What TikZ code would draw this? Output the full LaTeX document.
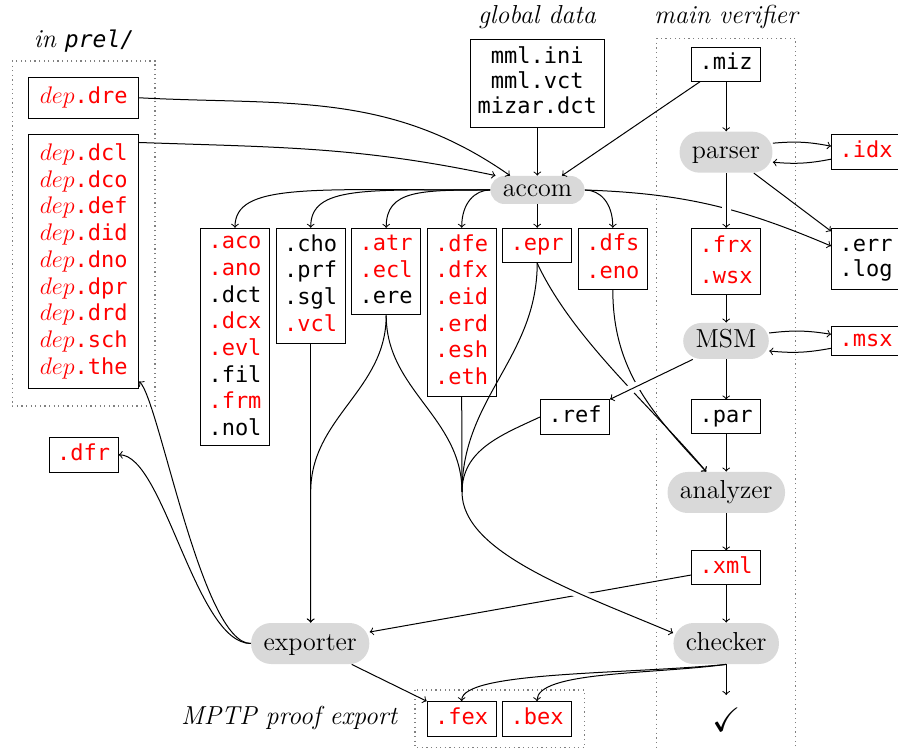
\documentclass[tikz,border=0pt]{standalone}
\usepackage{fontspec}
\usepackage{amssymb}
\newfontfamily\mymono{DejaVu Sans Mono}
\newcommand\msz[1]{\mymono\fontsize{11}{#1}\selectfont}
\newcommand\Lr[1]{\strut\textcolor{red}{#1}}
\newcommand\Lk[1]{\strut #1}
\newcommand\depi{{\fontsize{12.5}{13}\selectfont$dep$}}
\begin{document}
\begin{tikzpicture}[x=0.5pt,y=0.5pt,
  file/.style={draw, line width=0.5pt, font=\msz{13.35}, align=center, minimum width=34.5pt, inner sep=0pt},
  proc/.style={fill=gray!30, rounded corners=10pt, font=\fontsize{13}{15}\selectfont, minimum height=20.5pt, inner xsep=6.2pt, inner ysep=0pt, text height=8pt, text depth=1.5pt},
  conn/.style={->, line width=0.5pt},
  wire/.style={line width=0.5pt},
  halo/.style={preaction={draw=white, line width=4.5pt, -, shorten <=4pt, shorten >=4pt}},
  region/.style={draw=gray, line width=0.6pt, dash pattern=on 0.6pt off 1.7pt},
  lbl/.style={font=\fontsize{13}{15}\selectfont\itshape}]
\useasboundingbox (0,0) rectangle (898,749);
% regions
\draw[region] (12.3,688) rectangle (155,343);
\draw[region] (656.7,710.7) rectangle (795.7,-20);
\draw[region] (415,59) rectangle (584.3,1.3);
% labels
\node[lbl] (prellbl) at (84,708) {in {\mymono\fontsize{11.5}{13}\selectfont\itshape prel/}};
\node[lbl] (globallbl) at (537,732) {global data};
\node[lbl] (mvlbl) at (726,732) {main verifier};
\node[lbl, anchor=east] (mptplbl) at (404,31) {MPTP proof export};
% left files
\node[file, minimum width=55pt, minimum height=20.5pt] (dre) at (83.7,651.2) {\Lr{\depi.dre}};
\node[file, minimum width=55pt, minimum height=127pt] (dep) at (83.7,487) {\Lr{\depi.dcl}\\\Lr{\depi.dco}\\\Lr{\depi.def}\\\Lr{\depi.did}\\\Lr{\depi.dno}\\\Lr{\depi.dpr}\\\Lr{\depi.drd}\\\Lr{\depi.sch}\\\Lr{\depi.the}};
\node[file, minimum height=17.5pt] (dfr) at (83.7,294.2) {\Lr{.dfr}};
% global
\node[file, minimum width=66.7pt, minimum height=43.7pt, font=\msz{12.5}] (global) at (537.3,665.3) {\Lk{mml.ini}\\\Lk{mml.vct}\\\Lk{mizar.dct}};
% accom
\node[proc, minimum height=14pt, rounded corners=7pt] (accom) at (537.5,559) {accom};
% environment files
\node[file, minimum height=108.5pt] (aco) at (235,412.2) {\Lr{.aco}\\\Lr{.ano}\\\Lk{.dct}\\\Lr{.dcx}\\\Lr{.evl}\\\Lk{.fil}\\\Lr{.frm}\\\Lk{.nol}};
\node[file, minimum height=57.5pt] (cho) at (310.7,463.2) {\Lk{.cho}\\\Lk{.prf}\\\Lk{.sgl}\\\Lr{.vcl}};
\node[file, minimum height=43.3pt] (atr) at (386.2,477.3) {\Lr{.atr}\\\Lr{.ecl}\\\Lk{.ere}};
\node[file, minimum height=84.2pt] (dfe) at (461.7,436.5) {\Lr{.dfe}\\\Lr{.dfx}\\\Lr{.eid}\\\Lr{.erd}\\\Lr{.esh}\\\Lr{.eth}};
\node[file, minimum height=17.2pt] (epr) at (537.2,503.5) {\Lr{.epr}};
\node[file, minimum height=30.5pt, font=\msz{13.85}] (dfs) at (612.8,490.2) {\Lr{.dfs}\\\Lr{.eno}};
% main verifier
\node[file, minimum height=16.9pt] (miz) at (726.2,684.8) {\Lk{.miz}};
\node[proc] (parser) at (726,596.8) {parser};
\node[file, minimum height=17.2pt] (idx) at (866,596.8) {\Lr{.idx}};
\node[file, minimum height=33.3pt, font=\msz{15.65}] (frx) at (726.2,487.3) {\Lr{.frx}\\\Lr{.wsx}};
\node[file, minimum height=30.3pt, font=\msz{12.85}] (err) at (866,490) {\Lk{.err}\\\Lk{.log}};
\node[proc, minimum height=18pt, rounded corners=9pt] (msm) at (726,408) {MSM};
\node[file, minimum height=14.7pt] (msx) at (866,407.7) {\Lr{.msx}};
\node[file, minimum height=17.2pt] (ref) at (575,332) {\Lk{.ref}};
\node[file, minimum height=17pt] (par) at (726.2,332) {\Lk{.par}};
\node[proc] (analyzer) at (726.3,256.5) {analyzer};
\node[file, minimum height=17pt] (xml) at (726.2,181) {\Lr{.xml}};
\node[proc] (checker) at (726.2,105.5) {checker};
\node[proc] (exporter) at (310.2,105.5) {exporter};
\node[file, minimum height=17.5pt] (fex) at (461.7,29.8) {\Lr{.fex}};
\node[file, minimum height=17.5pt] (bex) at (537,29.8) {\Lr{.bex}};
\node (check) at (726.2,29.5) {\fontsize{17}{19}\selectfont\checkmark};
\coordinate (checkend) at (726.2,54);
\coordinate (hub) at (462,257);
% inputs of accom
\draw[conn] (dre.east) to[out=-3,in=145] ([xshift=-13.75pt]accom.north);
\draw[conn] ([yshift=-4pt]dep.north east) to[out=-2,in=168] ([xshift=-21pt]accom.north);
\draw[conn] (global.south) -- (global.south |- accom.north);
\draw[conn] ([xshift=4.5pt]miz.south west) -- ([xshift=12.25pt]accom.north);
% outputs of accom
\draw[conn] (accom.west) .. controls +(-180,0) and +(0,45) .. (aco.north);
\draw[conn] (accom.west) .. controls +(-125,0) and +(0,42) .. (cho.north);
\draw[conn] (accom.west) .. controls +(-70,0) and +(0,38) .. (atr.north);
\draw[conn] (accom.west) .. controls +(-15,0) and +(0,25) .. (dfe.north);
\draw[conn] (accom.south -| epr.north) -- (epr.north);
\draw[conn] (accom.east) .. controls +(15,0) and +(0,25) .. (dfs.north);
\draw[conn] (accom.east) to[out=-2,in=157] ([yshift=6.5pt]err.west);
% main verifier chain
\draw[conn] (miz.south) -- (miz.south |- parser.north);
\draw[conn] ([yshift=4.5pt]parser.east) to[bend left=8] ([yshift=3pt]idx.west);
\draw[conn] ([yshift=-3.5pt]idx.west) to[bend left=8] ([yshift=-5pt]parser.east);
\draw[conn] ([xshift=-9.5pt]parser.south east) -- ([yshift=-1.5pt]err.north west);
\draw[conn, halo] (parser.south -| frx.north) -- (frx.north);
\draw[conn] (frx.south) -- (frx.south |- msm.north);
\draw[conn] ([yshift=4pt]msm.east) to[bend left=8] ([yshift=3.5pt]msx.west);
\draw[conn] ([yshift=-3.5pt]msx.west) to[bend left=8] ([yshift=-5pt]msm.east);
\draw[conn] (msm.south -| par.north) -- (par.north);
% into analyzer
\draw[conn] (epr.south) to[out=-65,in=130,looseness=0.8] ([xshift=19.5pt]analyzer.north west);
\draw[conn] (dfs.south) to[out=-90,in=133] ([xshift=19.5pt]analyzer.north west);
\draw[conn, halo] ([xshift=5pt]msm.south west) -- (ref.north east);
\draw[conn] (par.south) -- (par.south |- analyzer.north);
\draw[conn] (analyzer.south -| xml.north) -- (xml.north);
\draw[conn] (xml.south) -- (xml.south |- checker.north);
\draw[conn] (checker.south) -- (checkend);
% exporter
\draw[conn] ([yshift=-3.5pt]xml.west) -- ([yshift=5.75pt]exporter.east);
\draw[conn, halo] (hub) .. controls +(0,-60) and +(-100,42) .. ([yshift=5.25pt]checker.west);
\draw[wire] (atr.south) to[out=-90,in=90] (hub);
\draw[wire] (dfe.south) -- (hub);
\draw[wire] (epr.south) to[out=-90,in=90] (hub);
\draw[wire] (ref.west) to[out=205,in=90] (hub);
\draw[conn] (cho.south) -- (cho.south |- exporter.north);
\draw[conn] (atr.south) to[out=-90,in=90] (cho.south |- hub) -- (cho.south |- exporter.north);
\draw[conn] (exporter.west) .. controls +(-55,0) and +(45,0) .. (dfr.east);
\draw[conn] (exporter.west) .. controls +(-49,0) and +(20,-19) .. ([yshift=4pt]dep.south east);
\draw[conn] ([xshift=-9pt]exporter.south east) -- (fex.north west);
% checker outputs
\draw[conn] (checker.south) .. controls +(-100,-10) and +(0,30) .. (fex.north);
\draw[conn] (checker.south) .. controls +(-75,-10) and +(0,30) .. (bex.north);
\end{tikzpicture}
\end{document}
